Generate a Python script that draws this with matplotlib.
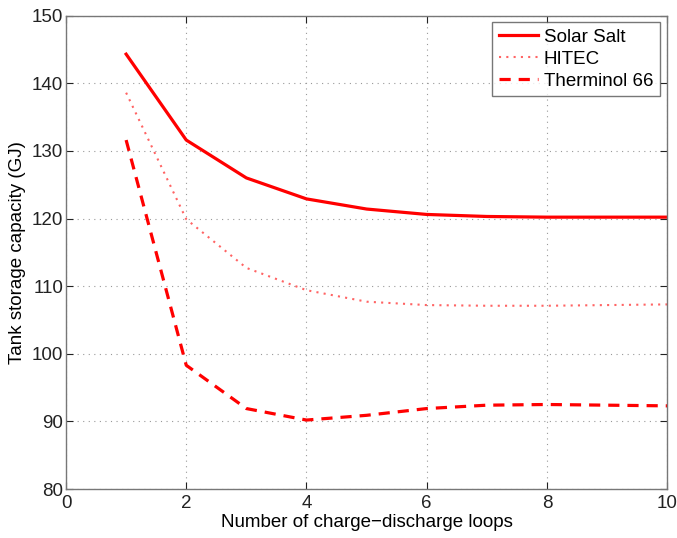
import matplotlib
matplotlib.use('Agg')
import matplotlib.pyplot as plt

# data
loops = [1, 2, 3, 4, 5, 6, 7, 8, 9, 10]
solar_salt = [144.3, 131.6, 126.0, 122.9, 121.4, 120.6, 120.3, 120.2, 120.2, 120.2]
hitec = [138.6, 119.9, 112.7, 109.4, 107.7, 107.2, 107.1, 107.1, 107.2, 107.3]
therminol = [131.6, 98.3, 91.9, 90.2, 90.9, 91.9, 92.4, 92.5, 92.4, 92.3]

x_ticks = [0, 2, 4, 6, 8, 10]
y_ticks = [80, 90, 100, 110, 120, 130, 140, 150]

plt.rcParams['font.family'] = ['Liberation Sans', 'DejaVu Sans']
plt.rcParams['font.size'] = 13.5

fig = plt.figure(figsize=(6.77, 5.38), dpi=100)
ax = fig.add_axes([0.0975, 0.091, 0.888, 0.880])

ax.plot(loops, solar_salt, color='red', lw=2.3, ls='-', label='Solar Salt')
ax.plot(loops, hitec, color='#ff3030', lw=1.5, ls=(0, (1, 2.5)), label='HITEC', alpha=0.75)
ax.plot(loops, therminol, color='red', lw=2.3, ls=(0, (3.5, 2.5)), label='Therminol 66')

ax.set_xlim(0, 10)
ax.set_ylim(80, 150)
ax.set_xticks(x_ticks)
ax.set_yticks(y_ticks)
ax.grid(True, ls=(0, (1, 4)), color='#999999', lw=0.8)
ax.tick_params(direction='in', length=5, colors='#222222', width=0.8, pad=2)
ax.tick_params(axis='x', pad=4)
ax.tick_params(top=True, right=True, labeltop=False, labelright=False)
for sp in ax.spines.values():
    sp.set_color('#777777')
    sp.set_linewidth(1.0)

ax.set_xlabel('Number of charge\u2212discharge loops', labelpad=2)
ax.set_ylabel('Tank storage capacity (GJ)', labelpad=4)

leg = ax.legend(loc='upper right', bbox_to_anchor=(0.988, 0.986), borderaxespad=0,
                fancybox=False, edgecolor='#555555', handlelength=2.1, borderpad=0.35,
                labelspacing=0.25, handletextpad=0.3, fontsize=13.5)
leg.get_frame().set_linewidth(1.0)

fig.savefig('out.png', dpi=100)
